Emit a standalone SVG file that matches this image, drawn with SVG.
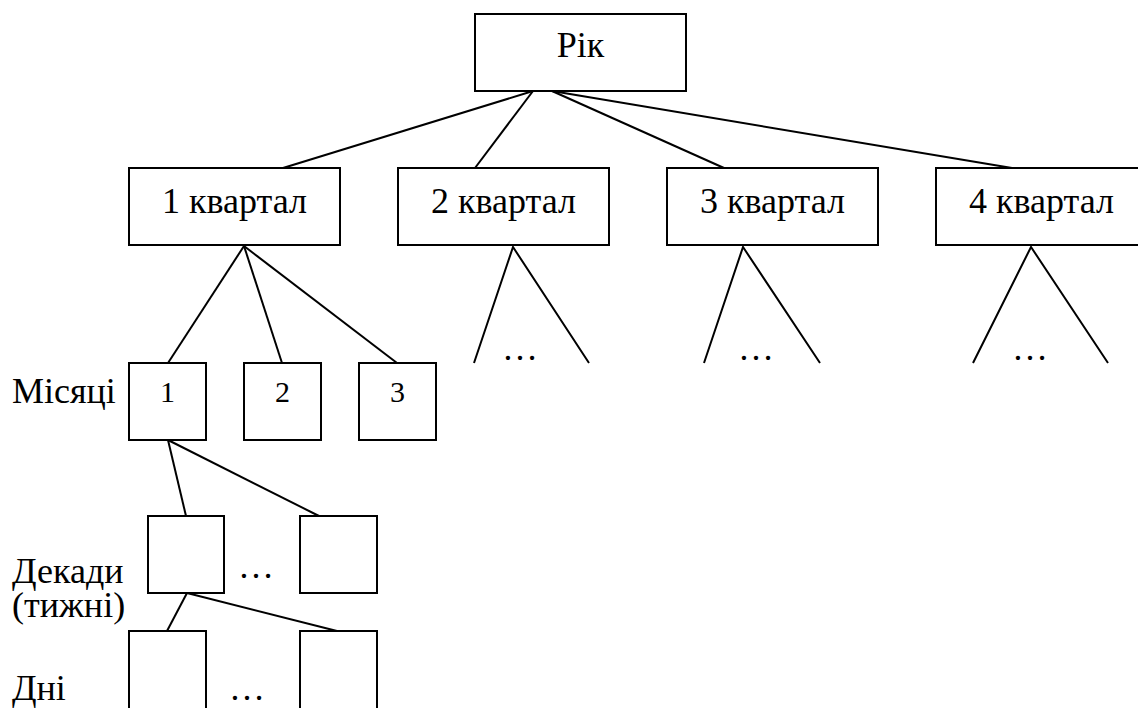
<svg xmlns="http://www.w3.org/2000/svg" width="1138" height="708" viewBox="0 0 1138 708">
<style>
.box{fill:#fff;stroke:#000;stroke-width:2}
.ln{stroke:#000;stroke-width:2;fill:none}
.t{font-family:"Liberation Serif","Times New Roman",serif;font-size:36px;fill:#000}
.c{text-anchor:middle}
.n{font-family:"Liberation Serif","Times New Roman",serif;font-size:30px;fill:#000;text-anchor:middle}
</style>
<rect width="1138" height="708" fill="#fff"/>
<g id="connectors">
<line class="ln" x1="533" y1="91" x2="283" y2="168"/>
<line class="ln" x1="533" y1="91" x2="475" y2="168"/>
<line class="ln" x1="552" y1="91" x2="724" y2="168"/>
<line class="ln" x1="552" y1="91" x2="1012" y2="168"/>
<line class="ln" x1="244" y1="246" x2="168" y2="363"/>
<line class="ln" x1="244" y1="246" x2="282" y2="363"/>
<line class="ln" x1="244" y1="246" x2="397" y2="363"/>
<polyline class="ln" points="474,363 513,247 589,363"/>
<polyline class="ln" points="704,363 743,247 820,363"/>
<polyline class="ln" points="973,363 1031,247 1108,363"/>
<line class="ln" x1="168" y1="440" x2="186" y2="516"/>
<line class="ln" x1="168" y1="440" x2="319" y2="516"/>
<line class="ln" x1="187" y1="593" x2="167" y2="631"/>
<line class="ln" x1="187" y1="593" x2="337" y2="631"/>
</g>
<g id="rik"><rect class="box" x="475" y="14" width="211" height="77"/><text class="t c" x="580.5" y="57">Рік</text></g>
<g id="q1"><rect class="box" x="129" y="168" width="211" height="77"/><text class="t c" x="234.5" y="213">1 квартал</text></g>
<g id="q2"><rect class="box" x="398" y="168" width="211" height="77"/><text class="t c" x="503.5" y="213">2 квартал</text></g>
<g id="q3"><rect class="box" x="667" y="168" width="211" height="77"/><text class="t c" x="772.5" y="213">3 квартал</text></g>
<g id="q4"><rect class="box" x="936" y="168" width="211" height="77"/><text class="t c" x="1041.5" y="213">4 квартал</text></g>
<g id="dots-q"><text class="t c" x="520" y="360">…</text><text class="t c" x="756" y="360">…</text><text class="t c" x="1030" y="360">…</text></g>
<g id="m1"><rect class="box" x="129" y="363" width="77" height="77"/><text class="n" x="167.5" y="402">1</text></g>
<g id="m2"><rect class="box" x="244" y="363" width="77" height="77"/><text class="n" x="282.5" y="402">2</text></g>
<g id="m3"><rect class="box" x="359" y="363" width="77" height="77"/><text class="n" x="397.5" y="402">3</text></g>
<g id="d1"><rect class="box" x="148" y="516" width="76" height="77"/></g>
<g id="d2"><rect class="box" x="300" y="516" width="77" height="77"/></g>
<g id="day1"><rect class="box" x="129" y="631" width="77" height="90"/></g>
<g id="day2"><rect class="box" x="300" y="631" width="77" height="90"/></g>
<g id="labels">
<text class="t" x="12" y="403">Місяці</text>
<text class="t" x="12" y="583">Декади</text>
<text class="t" x="12" y="617">(тижні)</text>
<text class="t" x="12" y="700">Дні</text>
<text class="t c" x="256" y="578">…</text>
<text class="t c" x="247" y="700">…</text>
</g>
</svg>
